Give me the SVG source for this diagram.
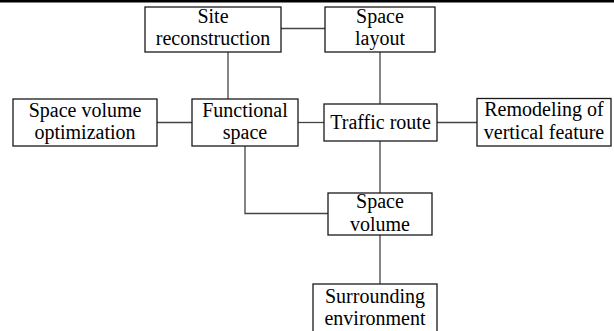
<svg xmlns="http://www.w3.org/2000/svg" width="614" height="331" viewBox="0 0 614 331">
<style>
.box{fill:#fff;stroke:#1a1a1a;stroke-width:1.3}
.ln{fill:none;stroke:#444;stroke-width:1.3}
text{font-family:"Liberation Serif","Times New Roman",serif;font-size:20px;fill:#000;text-anchor:middle}
</style>
<rect x="0" y="0" width="614" height="2.5" fill="#000"/>
<g id="connectors">
<path class="ln" d="M281 28.5H325"/>
<path class="ln" d="M228 52V99"/>
<path class="ln" d="M380 52V104"/>
<path class="ln" d="M157 122.5H192"/>
<path class="ln" d="M298 122.5H324"/>
<path class="ln" d="M437 122.5H477"/>
<path class="ln" d="M245 146V213.5H328"/>
<path class="ln" d="M380 141V193"/>
<path class="ln" d="M380 235V284"/>
</g>
<g id="site-reconstruction">
<rect class="box" x="145" y="7" width="136" height="45"/>
<text x="213" y="22.5">Site</text>
<text x="213" y="45">reconstruction</text>
</g>
<g id="space-layout">
<rect class="box" x="325" y="7" width="110" height="45"/>
<text x="380" y="22.5">Space</text>
<text x="380" y="45">layout</text>
</g>
<g id="space-volume-optimization">
<rect class="box" x="13" y="99" width="144" height="47"/>
<text x="85" y="117">Space volume</text>
<text x="85" y="139">optimization</text>
</g>
<g id="functional-space">
<rect class="box" x="192" y="99" width="106" height="47"/>
<text x="245" y="117">Functional</text>
<text x="245" y="139">space</text>
</g>
<g id="traffic-route">
<rect class="box" x="324" y="104" width="113" height="37"/>
<text x="380.5" y="128.5">Traffic route</text>
</g>
<g id="remodeling">
<rect class="box" x="477" y="98.5" width="134" height="47.5"/>
<text x="544" y="115.5">Remodeling of</text>
<text x="544" y="138.5">vertical feature</text>
</g>
<g id="space-volume">
<rect class="box" x="328" y="193" width="104" height="42"/>
<text x="380" y="208">Space</text>
<text x="380" y="231">volume</text>
</g>
<g id="surrounding-environment">
<rect class="box" x="313" y="284" width="124" height="60"/>
<text x="375" y="302.5">Surrounding</text>
<text x="375" y="325">environment</text>
</g>
</svg>
